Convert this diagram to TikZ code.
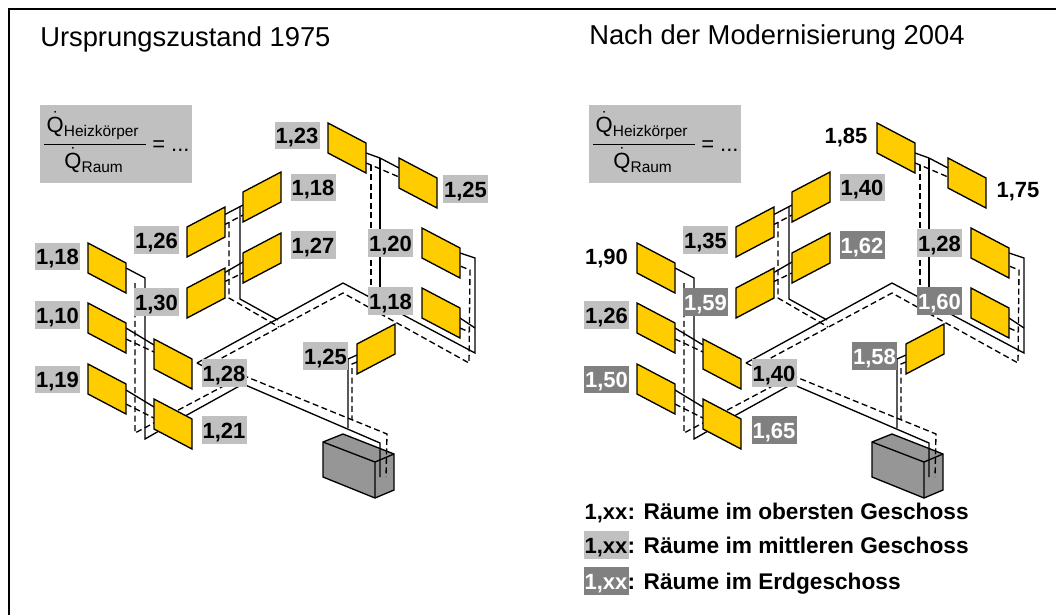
\documentclass[tikz,border=0pt]{standalone}
\usepackage{fontspec}
\setmainfont{Liberation Sans}
\usetikzlibrary{positioning}

\definecolor{heizgelb}{HTML}{FFCC00}
\definecolor{mittelgrau}{HTML}{C0C0C0}
\definecolor{erdgrau}{HTML}{808080}
\definecolor{kesselgrau}{HTML}{969696}

\tikzset{
	wert/.style={font=\fontsize{16.5}{18}\bfseries\selectfont, inner sep=0pt, minimum width=33.75pt, minimum height=20.8pt, text height=12pt, text depth=0pt},
	wertmittel/.style={wert, fill=mittelgrau},
	werterd/.style={wert, fill=erdgrau, text=white},
	titel/.style={font=\fontsize{20.5}{24}\selectfont, anchor=base west, inner sep=0pt},
	legende/.style={font=\fontsize{17}{19}\bfseries\selectfont, inner sep=0pt},
	heizk/.style={draw=black, line width=1pt, fill=heizgelb, line join=miter},
	rohr/.style={draw=black, line width=1pt},
	rohrrueck/.style={rohr, dash pattern=on 4.5pt off 2.6pt},
	formel/.style={font=\fontsize{16.5}{18}\selectfont, inner sep=0pt}
}

\newcommand{\Qdot}{\dot{\mbox{Q}}}
\newcommand{\subfont}{\fontsize{11.6}{13}\selectfont}

\begin{document}
\begin{tikzpicture}[x=.75pt, y=-.75pt]
\useasboundingbox (0,0) rectangle (1056,615);
\draw [line width=1.5pt] (1056,9) -- (9,9) -- (9,615);

\node [titel](TitelAlt) at (40,46){Ursprungszustand 1975};
\node [titel](TitelNeu) at (589,44){Nach der Modernisierung 2004};

% beide Anlagen sind gleich
\foreach \dx/\nm in {0/A,549/B}{
\begin{scope}[shift={(\dx,0)}]
% Formel
\fill [mittelgrau] (40,105) rectangle (192,183);
\node [formel, anchor=base](\nm Qh) at (93,132){$\Qdot_{\mbox{\subfont Heizkörper}}$};
\node [formel, anchor=base](\nm Qr) at (94,168){$\Qdot_{\mbox{\subfont Raum}}$};
\draw [line width=.7pt] (44,144) -- (146,144);
\node [formel, anchor=base west](\nm Qg) at (152,151){= ...};

% Kessel
\draw [heizk, fill=kesselgrau] (323,442) -- (343,434) -- (394,454) -- (394,490) -- (375,498) -- (323,477) -- cycle;
\draw [rohr] (323,442) -- (375,462) -- (394,454) (375,462) -- (375,498);

% Vorlauf
\draw [rohr] (126,268) -- (145,278) -- (145,439) -- (187,415) -- (243,384) -- (380,443) -- (380,477);
\draw [rohr] (197,363) -- (343,283) -- (475,353) -- (475,258) -- (460,253);
\draw [rohr] (126,328) -- (154,345);
\draw [rohr] (126,390) -- (154,407);
\draw [rohr] (224,215) -- (243,205);
\draw [rohr] (224,273) -- (243,262);
\draw [rohr] (240,207) -- (240,299) -- (278,320);
\draw [rohr] (366,153) -- (380,158) -- (399,168);
\draw [rohr] (380,158) -- (380,304);
\draw [rohr] (460,318) -- (475,328);
\draw [rohr] (357,355) -- (348,359) -- (348,428);

% Ruecklauf
\draw [rohrrueck] (135,283) -- (135,433) -- (233,381);
\draw [rohrrueck] (197,363) -- (205,367) -- (247,377) -- (387,434) -- (386,477);
\draw [rohrrueck] (205,367) -- (343,293) -- (469,363) -- (470,270) -- (460,266);
\draw [rohrrueck] (126,339) -- (154,352);
\draw [rohrrueck] (126,404) -- (154,418);
\draw [rohrrueck] (224,225) -- (243,215);
\draw [rohrrueck] (224,282) -- (243,273);
\draw [rohrrueck] (229,222) -- (229,298) -- (279,327);
\draw [rohrrueck] (366,163) -- (371,165) -- (399,177);
\draw [rohrrueck] (371,165) -- (371,308);
\draw [rohrrueck] (460,328) -- (469,332);
\draw [rohrrueck] (357,362) -- (352,364) -- (352,420);

% Heizkoerper
\foreach \x/\y in {88/243, 88/303, 88/364, 154/339, 154/399, 328/123, 399/158, 422/228, 422/288}
	\draw [heizk] (\x,\y) -- ++(38,20) -- ++(0,30) -- ++(-38,-20) -- cycle;
\foreach \x/\y in {187/227, 187/288, 243/192, 243/253, 357/344}
	\draw [heizk] (\x,\y) -- ++(38,-20) -- ++(0,30) -- ++(-38,20) -- cycle;
\end{scope}
}

% Ursprungszustand
\node [wertmittel](a123) at (297,135.5){1,23};
\node [wertmittel](a118) at (313,187.5){1,18};
\node [wertmittel](a125) at (465.5,189){1,25};
\node [wertmittel](a127) at (313,245){1,27};
\node [wertmittel](a120) at (390.5,243){1,20};
\node [wertmittel](a118b) at (390.5,301){1,18};
\node [wertmittel](a125b) at (325.5,356){1,25};
\node [wertmittel](a126) at (156.5,240){1,26};
\node [wertmittel](a130) at (156.5,302){1,30};
\node [wertmittel](a118c) at (57.5,256.5){1,18};
\node [wertmittel](a110) at (57.5,315){1,10};
\node [wertmittel](a119) at (57.5,379.5){1,19};
\node [wertmittel](a128) at (224,373){1,28};
\node [wertmittel](a121) at (224,430){1,21};

% Modernisierung
\node [wert](b185) at (846,135.5){1,85};
\node [wertmittel](b140) at (862,187.5){1,40};
\node [wert](b175) at (1018,189){1,75};
\node [werterd](b162) at (862,245){1,62};
\node [wertmittel](b128) at (939.5,243){1,28};
\node [werterd](b160) at (939.5,301){1,60};
\node [werterd](b158) at (874.5,356){1,58};
\node [wertmittel](b135) at (705.5,240){1,35};
\node [werterd](b159) at (705.5,302){1,59};
\node [wert](b190) at (606.5,256.5){1,90};
\node [wertmittel](b126) at (606.5,315){1,26};
\node [werterd](b150) at (606.5,379.5){1,50};
\node [wertmittel](b140b) at (774,373){1,40};
\node [werterd](b165) at (774,430){1,65};

% Legende
\node [wert](Lg1) at (606,511){1,xx};
\node [legende, base right=-1pt of Lg1](Lg1t){: Räume im obersten Geschoss};
\node [wertmittel](Lg2) at (606,545){1,xx};
\node [legende, base right=-1pt of Lg2](Lg2t){: Räume im mittleren Geschoss};
\node [werterd](Lg3) at (606,581){1,xx};
\node [legende, base right=-1pt of Lg3](Lg3t){: Räume im Erdgeschoss};

\end{tikzpicture}
\end{document}
